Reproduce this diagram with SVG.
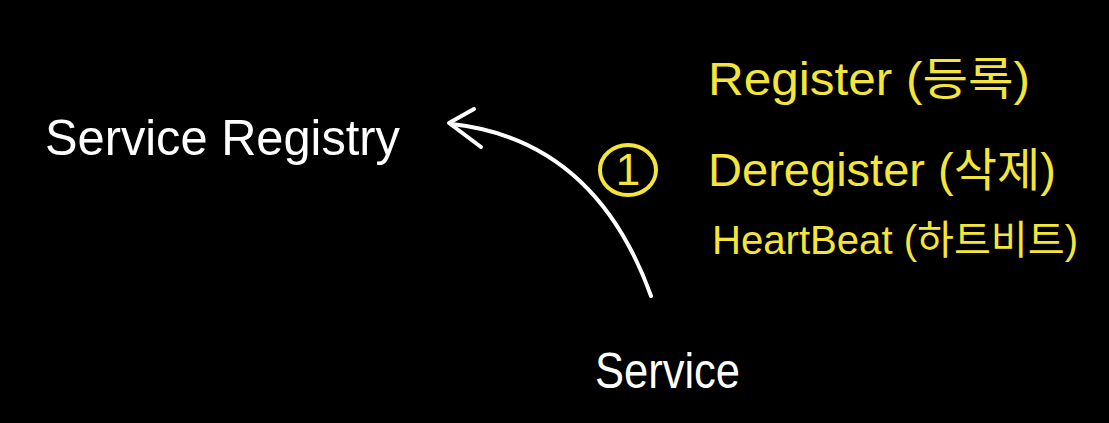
<svg xmlns="http://www.w3.org/2000/svg" width="1109" height="423" viewBox="0 0 1109 423">
<style>
.w{fill:#ffffff;font-family:"Liberation Sans","Noto Sans CJK KR",sans-serif;font-size:50px}
.y{fill:#f4e53a;font-family:"Liberation Sans","Noto Sans CJK KR",sans-serif;font-size:46px}
.edge{fill:none;stroke:#ffffff;stroke-width:4;stroke-linecap:round;stroke-linejoin:round}
</style>
<rect width="1109" height="423" fill="#000000"/>
<g id="registry"><text class="w" x="45" y="155" textLength="355" lengthAdjust="spacingAndGlyphs">Service Registry</text></g>
<g id="service"><text class="w" x="595" y="388" textLength="145" lengthAdjust="spacingAndGlyphs">Service</text></g>
<g id="labels">
<text class="y" x="708" y="95" textLength="322" lengthAdjust="spacingAndGlyphs">Register (등록)</text>
<text class="y" x="708" y="186" textLength="348" lengthAdjust="spacingAndGlyphs">Deregister (삭제)</text>
<text class="y" x="712" y="254" style="font-size:40px" textLength="366" lengthAdjust="spacingAndGlyphs">HeartBeat (하트비트)</text>
</g>
<g id="step1">
<ellipse cx="628" cy="170" rx="28" ry="25" fill="none" stroke="#f4e53a" stroke-width="4"/>
<text class="y" x="628" y="185" text-anchor="middle" style="font-size:44px">1</text>
</g>
<g id="connectors">
<path class="edge" d="M651 296 Q595 140 452 124"/>
<path class="edge" d="M474 109 L449 123 L481 147"/>
</g>
</svg>
